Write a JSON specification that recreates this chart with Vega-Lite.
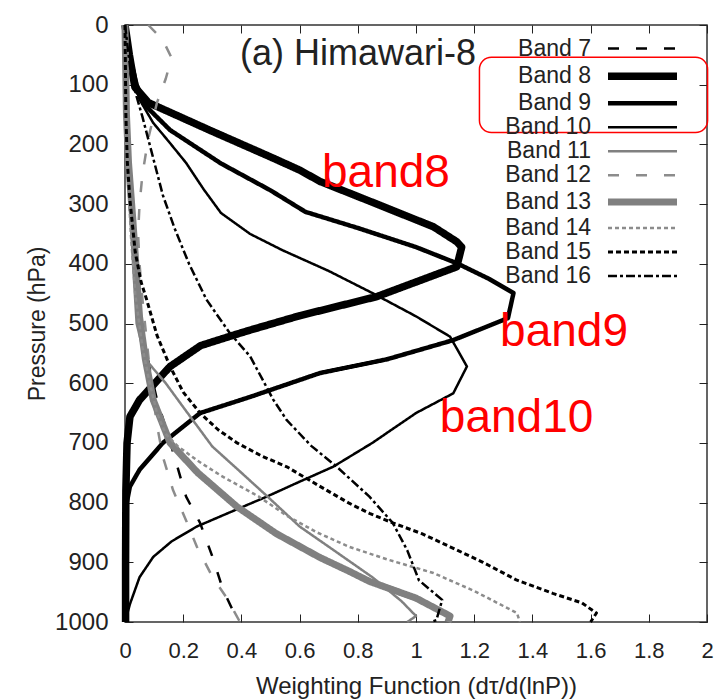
{
  "$schema": "https://vega.github.io/schema/vega-lite/v6.json",
  "width": 582,
  "height": 597,
  "autosize": {"type": "none"},
  "padding": {"left": 125, "top": 25, "right": 8, "bottom": 78},
  "background": "white",
  "config": {
    "font": "Liberation Sans",
    "view": {"stroke": "#333", "strokeWidth": 1.5}
  },
  "datasets": {
    "wf": [
      {"b": "Band 7", "x": 0, "p": 0}, {"b": "Band 7", "x": 0.005, "p": 100}, {"b": "Band 7", "x": 0.012, "p": 200},
      {"b": "Band 7", "x": 0.022, "p": 300}, {"b": "Band 7", "x": 0.035, "p": 400}, {"b": "Band 7", "x": 0.055, "p": 500},
      {"b": "Band 7", "x": 0.086, "p": 578}, {"b": "Band 7", "x": 0.11, "p": 628}, {"b": "Band 7", "x": 0.15, "p": 690},
      {"b": "Band 7", "x": 0.18, "p": 740}, {"b": "Band 7", "x": 0.21, "p": 790}, {"b": "Band 7", "x": 0.258, "p": 834},
      {"b": "Band 7", "x": 0.3, "p": 890}, {"b": "Band 7", "x": 0.337, "p": 946}, {"b": "Band 7", "x": 0.37, "p": 980},
      {"b": "Band 7", "x": 0.39, "p": 1000},

      {"b": "Band 8", "x": 0, "p": 0}, {"b": "Band 8", "x": 0.015, "p": 50}, {"b": "Band 8", "x": 0.034, "p": 104},
      {"b": "Band 8", "x": 0.08, "p": 130}, {"b": "Band 8", "x": 0.19, "p": 154}, {"b": "Band 8", "x": 0.29, "p": 176},
      {"b": "Band 8", "x": 0.5, "p": 221}, {"b": "Band 8", "x": 0.6, "p": 243}, {"b": "Band 8", "x": 0.67, "p": 262},
      {"b": "Band 8", "x": 0.83, "p": 293}, {"b": "Band 8", "x": 1.06, "p": 338}, {"b": "Band 8", "x": 1.14, "p": 363},
      {"b": "Band 8", "x": 1.157, "p": 372}, {"b": "Band 8", "x": 1.14, "p": 405}, {"b": "Band 8", "x": 0.865, "p": 455},
      {"b": "Band 8", "x": 0.6, "p": 487}, {"b": "Band 8", "x": 0.43, "p": 511}, {"b": "Band 8", "x": 0.37, "p": 520},
      {"b": "Band 8", "x": 0.26, "p": 537}, {"b": "Band 8", "x": 0.155, "p": 572}, {"b": "Band 8", "x": 0.05, "p": 628},
      {"b": "Band 8", "x": 0.017, "p": 656}, {"b": "Band 8", "x": 0.007, "p": 700}, {"b": "Band 8", "x": 0.003, "p": 780},
      {"b": "Band 8", "x": 0.002, "p": 900}, {"b": "Band 8", "x": 0.002, "p": 1000},

      {"b": "Band 9", "x": 0, "p": 0}, {"b": "Band 9", "x": 0.02, "p": 60}, {"b": "Band 9", "x": 0.04, "p": 100},
      {"b": "Band 9", "x": 0.07, "p": 135}, {"b": "Band 9", "x": 0.155, "p": 176}, {"b": "Band 9", "x": 0.33, "p": 232},
      {"b": "Band 9", "x": 0.5, "p": 277}, {"b": "Band 9", "x": 0.62, "p": 313}, {"b": "Band 9", "x": 0.8, "p": 340},
      {"b": "Band 9", "x": 1.0, "p": 372}, {"b": "Band 9", "x": 1.14, "p": 399}, {"b": "Band 9", "x": 1.25, "p": 425},
      {"b": "Band 9", "x": 1.335, "p": 449}, {"b": "Band 9", "x": 1.316, "p": 491}, {"b": "Band 9", "x": 1.127, "p": 528},
      {"b": "Band 9", "x": 0.9, "p": 560}, {"b": "Band 9", "x": 0.67, "p": 583}, {"b": "Band 9", "x": 0.43, "p": 623},
      {"b": "Band 9", "x": 0.258, "p": 650}, {"b": "Band 9", "x": 0.13, "p": 700}, {"b": "Band 9", "x": 0.05, "p": 745},
      {"b": "Band 9", "x": 0.017, "p": 773}, {"b": "Band 9", "x": 0.006, "p": 800}, {"b": "Band 9", "x": 0.003, "p": 900},
      {"b": "Band 9", "x": 0.002, "p": 1000},

      {"b": "Band 10", "x": 0, "p": 0}, {"b": "Band 10", "x": 0.02, "p": 70}, {"b": "Band 10", "x": 0.05, "p": 125},
      {"b": "Band 10", "x": 0.097, "p": 164}, {"b": "Band 10", "x": 0.15, "p": 195}, {"b": "Band 10", "x": 0.21, "p": 231},
      {"b": "Band 10", "x": 0.27, "p": 275}, {"b": "Band 10", "x": 0.33, "p": 315}, {"b": "Band 10", "x": 0.43, "p": 350},
      {"b": "Band 10", "x": 0.54, "p": 377}, {"b": "Band 10", "x": 0.7, "p": 412}, {"b": "Band 10", "x": 0.85, "p": 449},
      {"b": "Band 10", "x": 1.0, "p": 488}, {"b": "Band 10", "x": 1.117, "p": 522}, {"b": "Band 10", "x": 1.175, "p": 572},
      {"b": "Band 10", "x": 1.128, "p": 617}, {"b": "Band 10", "x": 1.0, "p": 650}, {"b": "Band 10", "x": 0.85, "p": 700},
      {"b": "Band 10", "x": 0.715, "p": 740}, {"b": "Band 10", "x": 0.6, "p": 765}, {"b": "Band 10", "x": 0.487, "p": 790},
      {"b": "Band 10", "x": 0.405, "p": 807}, {"b": "Band 10", "x": 0.247, "p": 840}, {"b": "Band 10", "x": 0.16, "p": 865},
      {"b": "Band 10", "x": 0.097, "p": 891}, {"b": "Band 10", "x": 0.05, "p": 925}, {"b": "Band 10", "x": 0.017, "p": 970},
      {"b": "Band 10", "x": 0, "p": 1000},

      {"b": "Band 11", "x": 0, "p": 0}, {"b": "Band 11", "x": 0.003, "p": 150}, {"b": "Band 11", "x": 0.01, "p": 250},
      {"b": "Band 11", "x": 0.02, "p": 330}, {"b": "Band 11", "x": 0.03, "p": 420}, {"b": "Band 11", "x": 0.04, "p": 500},
      {"b": "Band 11", "x": 0.07, "p": 560}, {"b": "Band 11", "x": 0.14, "p": 600}, {"b": "Band 11", "x": 0.2, "p": 640},
      {"b": "Band 11", "x": 0.25, "p": 673}, {"b": "Band 11", "x": 0.3, "p": 706}, {"b": "Band 11", "x": 0.4, "p": 750},
      {"b": "Band 11", "x": 0.49, "p": 790}, {"b": "Band 11", "x": 0.6, "p": 840}, {"b": "Band 11", "x": 0.715, "p": 879},
      {"b": "Band 11", "x": 0.85, "p": 925}, {"b": "Band 11", "x": 0.95, "p": 965}, {"b": "Band 11", "x": 1.0, "p": 990},
      {"b": "Band 11", "x": 0.97, "p": 1000},

      {"b": "Band 12", "x": 0.08, "p": 0}, {"b": "Band 12", "x": 0.13, "p": 25}, {"b": "Band 12", "x": 0.16, "p": 55},
      {"b": "Band 12", "x": 0.14, "p": 90}, {"b": "Band 12", "x": 0.11, "p": 130}, {"b": "Band 12", "x": 0.08, "p": 190},
      {"b": "Band 12", "x": 0.06, "p": 250}, {"b": "Band 12", "x": 0.05, "p": 300}, {"b": "Band 12", "x": 0.045, "p": 350},
      {"b": "Band 12", "x": 0.05, "p": 400}, {"b": "Band 12", "x": 0.06, "p": 460}, {"b": "Band 12", "x": 0.075, "p": 530},
      {"b": "Band 12", "x": 0.09, "p": 600}, {"b": "Band 12", "x": 0.11, "p": 670}, {"b": "Band 12", "x": 0.13, "p": 723},
      {"b": "Band 12", "x": 0.165, "p": 779}, {"b": "Band 12", "x": 0.21, "p": 830}, {"b": "Band 12", "x": 0.247, "p": 874},
      {"b": "Band 12", "x": 0.3, "p": 924}, {"b": "Band 12", "x": 0.35, "p": 960}, {"b": "Band 12", "x": 0.395, "p": 1000},

      {"b": "Band 13", "x": 0, "p": 0}, {"b": "Band 13", "x": 0.005, "p": 150}, {"b": "Band 13", "x": 0.012, "p": 230},
      {"b": "Band 13", "x": 0.027, "p": 327}, {"b": "Band 13", "x": 0.04, "p": 420}, {"b": "Band 13", "x": 0.05, "p": 489},
      {"b": "Band 13", "x": 0.07, "p": 560}, {"b": "Band 13", "x": 0.097, "p": 628}, {"b": "Band 13", "x": 0.155, "p": 700},
      {"b": "Band 13", "x": 0.25, "p": 750}, {"b": "Band 13", "x": 0.385, "p": 807}, {"b": "Band 13", "x": 0.52, "p": 852},
      {"b": "Band 13", "x": 0.67, "p": 892}, {"b": "Band 13", "x": 0.77, "p": 915}, {"b": "Band 13", "x": 0.84, "p": 932},
      {"b": "Band 13", "x": 1.0, "p": 960}, {"b": "Band 13", "x": 1.117, "p": 990}, {"b": "Band 13", "x": 1.11, "p": 1000},

      {"b": "Band 14", "x": 0, "p": 0}, {"b": "Band 14", "x": 0.004, "p": 150}, {"b": "Band 14", "x": 0.01, "p": 250},
      {"b": "Band 14", "x": 0.02, "p": 350}, {"b": "Band 14", "x": 0.035, "p": 450}, {"b": "Band 14", "x": 0.06, "p": 540},
      {"b": "Band 14", "x": 0.085, "p": 600}, {"b": "Band 14", "x": 0.11, "p": 650}, {"b": "Band 14", "x": 0.14, "p": 685},
      {"b": "Band 14", "x": 0.18, "p": 705}, {"b": "Band 14", "x": 0.25, "p": 730}, {"b": "Band 14", "x": 0.33, "p": 755},
      {"b": "Band 14", "x": 0.46, "p": 790}, {"b": "Band 14", "x": 0.556, "p": 822}, {"b": "Band 14", "x": 0.66, "p": 850},
      {"b": "Band 14", "x": 0.77, "p": 874}, {"b": "Band 14", "x": 0.9, "p": 895}, {"b": "Band 14", "x": 1.06, "p": 918},
      {"b": "Band 14", "x": 1.2, "p": 948}, {"b": "Band 14", "x": 1.347, "p": 985}, {"b": "Band 14", "x": 1.357, "p": 1000},

      {"b": "Band 15", "x": 0, "p": 0}, {"b": "Band 15", "x": 0.003, "p": 150}, {"b": "Band 15", "x": 0.008, "p": 230},
      {"b": "Band 15", "x": 0.017, "p": 293}, {"b": "Band 15", "x": 0.035, "p": 380}, {"b": "Band 15", "x": 0.055, "p": 430},
      {"b": "Band 15", "x": 0.075, "p": 461}, {"b": "Band 15", "x": 0.11, "p": 520}, {"b": "Band 15", "x": 0.155, "p": 572},
      {"b": "Band 15", "x": 0.2, "p": 615}, {"b": "Band 15", "x": 0.258, "p": 650}, {"b": "Band 15", "x": 0.32, "p": 678},
      {"b": "Band 15", "x": 0.385, "p": 700}, {"b": "Band 15", "x": 0.47, "p": 722}, {"b": "Band 15", "x": 0.556, "p": 740},
      {"b": "Band 15", "x": 0.66, "p": 770}, {"b": "Band 15", "x": 0.77, "p": 801}, {"b": "Band 15", "x": 0.84, "p": 818},
      {"b": "Band 15", "x": 0.92, "p": 834}, {"b": "Band 15", "x": 1.02, "p": 852}, {"b": "Band 15", "x": 1.117, "p": 874},
      {"b": "Band 15", "x": 1.23, "p": 900}, {"b": "Band 15", "x": 1.347, "p": 930}, {"b": "Band 15", "x": 1.47, "p": 952},
      {"b": "Band 15", "x": 1.57, "p": 968}, {"b": "Band 15", "x": 1.62, "p": 985}, {"b": "Band 15", "x": 1.6, "p": 1000},

      {"b": "Band 16", "x": 0, "p": 0}, {"b": "Band 16", "x": 0.02, "p": 80}, {"b": "Band 16", "x": 0.04, "p": 120},
      {"b": "Band 16", "x": 0.06, "p": 154}, {"b": "Band 16", "x": 0.09, "p": 210}, {"b": "Band 16", "x": 0.13, "p": 285},
      {"b": "Band 16", "x": 0.17, "p": 340}, {"b": "Band 16", "x": 0.22, "p": 400}, {"b": "Band 16", "x": 0.28, "p": 460},
      {"b": "Band 16", "x": 0.36, "p": 516}, {"b": "Band 16", "x": 0.43, "p": 555}, {"b": "Band 16", "x": 0.51, "p": 628},
      {"b": "Band 16", "x": 0.556, "p": 662}, {"b": "Band 16", "x": 0.64, "p": 705}, {"b": "Band 16", "x": 0.728, "p": 740},
      {"b": "Band 16", "x": 0.84, "p": 790}, {"b": "Band 16", "x": 0.92, "p": 834}, {"b": "Band 16", "x": 0.97, "p": 880},
      {"b": "Band 16", "x": 1.01, "p": 930}, {"b": "Band 16", "x": 1.09, "p": 963}, {"b": "Band 16", "x": 1.07, "p": 997},
      {"b": "Band 16", "x": 1.05, "p": 1000}
    ]
  },
  "resolve": {"axis": {"x": "independent", "y": "independent"}},
  "layer": [
    {
      "data": {"name": "wf"},
      "mark": {"type": "line", "strokeJoin": "round", "strokeCap": "butt"},
      "encoding": {
        "x": {
          "field": "x", "type": "quantitative",
          "scale": {"domain": [0, 2], "nice": false, "zero": false},
          "axis": {
            "orient": "bottom", "values": [0, 0.2, 0.4, 0.6, 0.8, 1, 1.2, 1.4, 1.6, 1.8, 2], "format": "~g",
            "grid": false, "domain": false, "tickSize": -8, "tickColor": "#222", "labelFlush": false,
            "labelFontSize": 22, "labelColor": "#222", "labelPadding": 26,
            "title": "Weighting Function (dτ/d(lnP))", "titleFontSize": 24, "titleFontWeight": "normal",
            "titleColor": "#222", "titlePadding": 13
          }
        },
        "y": {
          "field": "p", "type": "quantitative",
          "scale": {"domain": [0, 1000], "nice": false, "zero": false, "reverse": true},
          "axis": {
            "orient": "left", "values": [0, 100, 200, 300, 400, 500, 600, 700, 800, 900, 1000], "format": "d",
            "grid": false, "domain": false, "tickSize": -8, "tickColor": "#222", "labelFlush": false,
            "labelFontSize": 24, "labelColor": "#222", "labelPadding": 25,
            "title": "Pressure (hPa)", "titleFontSize": 23, "titleFontWeight": "normal",
            "titleColor": "#222", "titlePadding": 5
          }
        },
        "order": {"field": "p", "type": "quantitative"},
        "stroke": {
          "field": "b", "type": "ordinal",
          "scale": {
            "domain": ["Band 7", "Band 8", "Band 9", "Band 10", "Band 11", "Band 12", "Band 13", "Band 14", "Band 15", "Band 16"],
            "range": ["#000000", "#000000", "#000000", "#000000", "#808080", "#8c8c8c", "#808080", "#8c8c8c", "#000000", "#000000"]
          },
          "legend": {
            "orient": "none", "legendX": 506, "legendY": 12, "title": null, "padding": 0,
            "symbolType": "M-34.5,0H34.5", "symbolSize": 4, "labelAlign": "right", "labelOffset": -63,
            "labelFontSize": 23, "labelColor": "#222", "labelFont": "Liberation Sans", "rowPadding": -0.2
          }
        },
        "strokeWidth": {
          "field": "b", "type": "ordinal",
          "scale": {
            "type": "ordinal",
            "domain": ["Band 7", "Band 8", "Band 9", "Band 10", "Band 11", "Band 12", "Band 13", "Band 14", "Band 15", "Band 16"],
            "range": [2.5, 7.5, 4.5, 2.5, 2.5, 2.5, 7, 2.5, 3, 2.5]
          }
        },
        "strokeDash": {
          "field": "b", "type": "ordinal",
          "scale": {
            "domain": ["Band 7", "Band 8", "Band 9", "Band 10", "Band 11", "Band 12", "Band 13", "Band 14", "Band 15", "Band 16"],
            "range": [[11, 17], [1, 0], [1, 0], [1, 0], [1, 0], [11, 17], [1, 0], [4, 3], [5, 3], [9, 3, 3, 3]]
          }
        }
      }
    },
    {
      "data": {"values": [{"x": 0.395, "p": 67, "t": "(a) Himawari-8"}]},
      "mark": {"type": "text", "align": "left", "baseline": "alphabetic", "fontSize": 36, "color": "#222", "font": "Liberation Sans"},
      "encoding": {
        "x": {
          "field": "x", "type": "quantitative", "scale": {"domain": [0, 2], "nice": false, "zero": false},
          "axis": {"orient": "top", "values": [0, 0.2, 0.4, 0.6, 0.8, 1, 1.2, 1.4, 1.6, 1.8, 2], "labels": false,
                   "title": null, "grid": false, "domain": false, "tickSize": -8, "tickColor": "#222"}
        },
        "y": {
          "field": "p", "type": "quantitative", "scale": {"domain": [0, 1000], "nice": false, "zero": false, "reverse": true},
          "axis": {"orient": "right", "values": [0, 100, 200, 300, 400, 500, 600, 700, 800, 900, 1000], "labels": false,
                   "title": null, "grid": false, "domain": false, "tickSize": -8, "tickColor": "#222"}
        },
        "text": {"field": "t"}
      }
    },
    {
      "data": {"values": [{"x1": 1.218, "x2": 2.002, "p1": 54, "p2": 180}]},
      "mark": {"type": "rect", "fill": null, "fillOpacity": 0, "stroke": "#ff0000", "strokeWidth": 1.5, "cornerRadius": 12},
      "encoding": {
        "x": {"field": "x1", "type": "quantitative", "scale": {"domain": [0, 2], "nice": false, "zero": false}, "axis": null},
        "x2": {"field": "x2"},
        "y": {"field": "p1", "type": "quantitative", "scale": {"domain": [0, 1000], "nice": false, "zero": false, "reverse": true}, "axis": null},
        "y2": {"field": "p2"}
      }
    },
    {
      "data": {"values": [
        {"x": 0.677, "p": 272, "t": "band8"},
        {"x": 1.289, "p": 537, "t": "band9"},
        {"x": 1.082, "p": 682, "t": "band10"}
      ]},
      "mark": {"type": "text", "align": "left", "baseline": "alphabetic", "fontSize": 46, "color": "#ff0000", "font": "Liberation Sans"},
      "encoding": {
        "x": {"field": "x", "type": "quantitative", "scale": {"domain": [0, 2], "nice": false, "zero": false}, "axis": null},
        "y": {"field": "p", "type": "quantitative", "scale": {"domain": [0, 1000], "nice": false, "zero": false, "reverse": true}, "axis": null},
        "text": {"field": "t"}
      }
    }
  ]
}
